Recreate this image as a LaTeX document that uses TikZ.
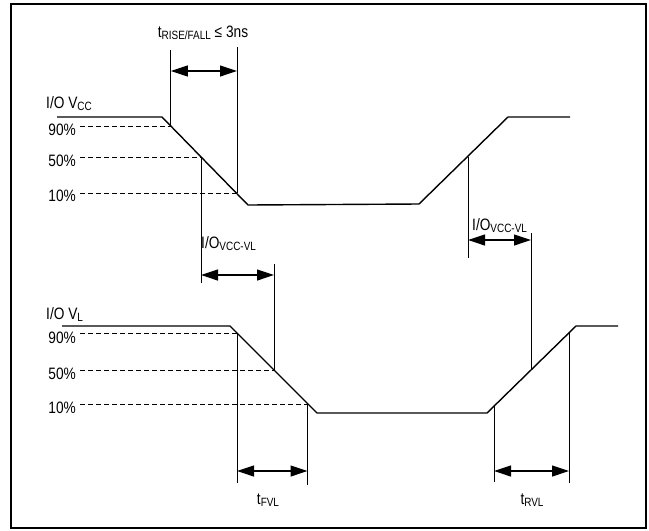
\documentclass[tikz,border=0pt]{standalone}
\usepackage{fontspec}
\setmainfont{Liberation Sans}[FakeStretch=0.83]
\usetikzlibrary{arrows.meta}
\newcommand\lsub[1]{\raisebox{-2pt}{\fontsize{12}{12}\selectfont #1}}
\tikzset{
  wave/.style={line width=1.4pt},
  guide/.style={line width=1pt},
  lvl/.style={line width=0.9pt, dash pattern=on 5pt off 3pt},
  dim/.style={line width=1.2pt, {Triangle[length=17pt,width=11pt]}-{Triangle[length=17pt,width=11pt]}},
  txt/.style={font=\fontsize{16.5}{18}\selectfont, inner sep=0pt},
}
\begin{document}
\begin{tikzpicture}[x=1pt,y=-1pt]
\useasboundingbox (0,0) rectangle (649,531);
\draw[line width=2pt] (11,4) rectangle (646,528);

% ---- I/O VCC waveform
\coordinate (c0) at (57,117);
\coordinate (c1) at (162,117);
\coordinate (c2) at (248,205);
\coordinate (c3) at (419,204);
\coordinate (c4) at (508,117);
\coordinate (c5) at (570,117);
\draw[wave] (c0) -- (c1) -- (c2) -- (c3) -- (c4) -- (c5);

\node[txt, anchor=base west] (lvcc) at (46,108) {I/O V\lsub{CC}};
\node[txt, anchor=base east] (p90a) at (76,135) {90\%};
\node[txt, anchor=base east] (p50a) at (76,166) {50\%};
\node[txt, anchor=base east] (p10a) at (76,201) {10\%};
\coordinate (c90) at (170.8,126);
\coordinate (c50) at (201,157);
\coordinate (c10) at (237,193);
\draw[lvl] (80,126) -- (c90);
\draw[lvl] (80,157) -- (c50);
\draw[lvl] (80,193) -- (c10);

% rise/fall
\coordinate (rf1) at (170.8,50);
\coordinate (rf2) at (237,47);
\draw[guide] (rf1) -- (c90);
\draw[guide] (rf2) -- (c10);
\draw[dim] (170.8,71) -- (237,71);
\node[txt, anchor=base] (trf) at (203,37) {t\lsub{RISE/FALL} ≤ 3ns};

% ---- I/O VL waveform
\coordinate (l0) at (62,326);
\coordinate (l1) at (230,326);
\coordinate (l2) at (317,413);
\coordinate (l3) at (487,413);
\coordinate (l4) at (576,326);
\coordinate (l5) at (618,326);
\draw[wave] (l0) -- (l1) -- (l2) -- (l3) -- (l4) -- (l5);

\node[txt, anchor=base west] (lvl) at (46,319) {I/O V\lsub{L}};
\node[txt, anchor=base east] (p90b) at (76,343) {90\%};
\node[txt, anchor=base east] (p50b) at (76,379) {50\%};
\node[txt, anchor=base east] (p10b) at (76,413) {10\%};
\coordinate (l90) at (237,333);
\coordinate (l50) at (274,370);
\coordinate (l10) at (307.5,404);
\draw[lvl] (80,333) -- (l90);
\draw[lvl] (80,370) -- (l50);
\draw[lvl] (80,404) -- (l10);

% VCC-VL delay (falling)
\coordinate (d1b) at (201,283);
\coordinate (d2t) at (274,264);
\draw[guide] (c50) -- (d1b);
\draw[guide] (d2t) -- (l50);
\draw[dim] (201,275) -- (274,275);
\node[txt, anchor=base west] (dlab1) at (201,248) {I/O\lsub{VCC-VL}};

% VCC-VL delay (rising)
\coordinate (r50) at (468,157);
\coordinate (r1b) at (468,258);
\coordinate (rl50) at (531,369);
\coordinate (r2t) at (531,233);
\draw[guide] (r50) -- (r1b);
\draw[guide] (r2t) -- (rl50);
\draw[dim] (468,240) -- (531,240);
\node[txt, anchor=base west] (dlab2) at (472,230) {I/O\lsub{VCC-VL}};

% tFVL
\coordinate (f1b) at (237,483);
\coordinate (f2b) at (307.5,485);
\draw[guide] (l90) -- (f1b);
\draw[guide] (l10) -- (f2b);
\draw[dim] (237,471) -- (307.5,471);
\node[txt, anchor=base] (tfvl) at (268,504) {t\lsub{FVL}};

% tRVL
\coordinate (rv10) at (494,406);
\coordinate (rv90) at (569,333);
\coordinate (rv1b) at (494,482);
\coordinate (rv2b) at (569,483);
\draw[guide] (rv10) -- (rv1b);
\draw[guide] (rv90) -- (rv2b);
\draw[dim] (494,471) -- (569,471);
\node[txt, anchor=base] (trvl) at (532,504) {t\lsub{RVL}};
\end{tikzpicture}
\end{document}
